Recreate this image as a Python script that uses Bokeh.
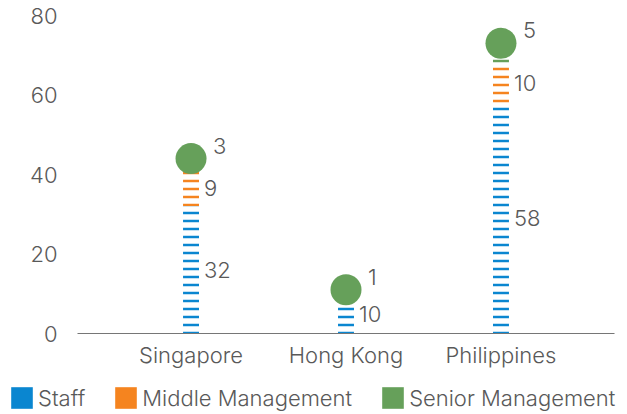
from bokeh.plotting import figure
from bokeh.layouts import column
from bokeh.models import (ColumnDataSource, FactorRange, Range1d, FixedTicker,
                          Legend, LegendItem)
from bokeh.core.properties import value
from bokeh.embed import file_html
from bokeh.resources import INLINE

# Headcount by level and office
countries = ["Singapore", "Hong Kong", "Philippines"]
staff = [32, 10, 58]
middle = [9, 0, 10]
senior = [3, 1, 5]
series_names = ["Staff", "Middle Management", "Senior Management"]
y_ticks = [0, 20, 40, 60, 80]

BLUE = "#0a86d0"
ORANGE = "#f5841f"
GREEN = "#66a05a"
TEXT = "#595959"
FONT = "'Inter Light', 'Roboto Light', Inter"
FONT_SIZE = "22px"

totals = [a + b + c for a, b, c in zip(staff, middle, senior)]

src = ColumnDataSource(dict(country=countries, staff=staff, middle=middle,
                            senior=senior, total=totals))

p = figure(
    x_range=FactorRange(*countries, range_padding=0.155),
    y_range=Range1d(0, 80),
    width=627, height=375,
    output_backend="svg", toolbar_location=None,
    min_border_left=77, min_border_right=13,
    min_border_top=15, min_border_bottom=42,
)
p.outline_line_color = None
p.xgrid.visible = False
p.ygrid.visible = False
p.background_fill_color = "white"
p.border_fill_color = "white"

# striped stacked columns
p.vbar_stack(
    ["staff", "middle", "senior"], x="country", width=0.103, source=src,
    fill_alpha=0, line_alpha=0,
    hatch_pattern="horizontal_line",
    hatch_color=[BLUE, ORANGE, GREEN],
    hatch_scale=8, hatch_weight=2.5,
)

# total marker on top of each column
p.scatter(x="country", y="total", source=src, size=31, marker="circle",
          fill_color=GREEN, line_color=None)

# segment value labels
lab_x, lab_y, lab_t, lab_dx, lab_dy = [], [], [], [], []
for c, s, m, g in zip(countries, staff, middle, senior):
    if s:
        lab_x.append(c); lab_y.append(s / 2); lab_t.append(str(s))
        lab_dx.append(13); lab_dy.append(0)
    if m:
        lab_x.append(c); lab_y.append(s + m / 2); lab_t.append(str(m))
        lab_dx.append(13); lab_dy.append(0)
    if g:
        lab_x.append(c); lab_y.append(s + m + g); lab_t.append(str(g))
        lab_dx.append(22); lab_dy.append(-13)
lab_src = ColumnDataSource(dict(x=lab_x, y=lab_y, text=lab_t, dx=lab_dx, dy=lab_dy))
p.text(x="x", y="y", text="text", x_offset="dx", y_offset="dy", source=lab_src,
       text_align="left", text_baseline="middle",
       text_font=value(FONT), text_font_size=FONT_SIZE, text_color=TEXT)

# axes
p.yaxis.ticker = FixedTicker(ticks=y_ticks)
p.yaxis.axis_line_color = None
p.yaxis.major_tick_line_color = None
p.yaxis.minor_tick_line_color = None
p.yaxis.major_tick_out = 0
p.yaxis.minor_tick_out = 0
p.yaxis.major_label_standoff = 20
p.yaxis.major_label_text_font = FONT
p.yaxis.major_label_text_font_size = FONT_SIZE
p.yaxis.major_label_text_color = TEXT

p.xaxis.axis_line_color = "#767676"
p.xaxis.axis_line_width = 1.2
p.xaxis.major_tick_line_color = None
p.xaxis.minor_tick_line_color = None
p.xaxis.major_tick_out = 0
p.xaxis.minor_tick_out = 0
p.xaxis.major_label_standoff = 8
p.xaxis.major_label_text_font = FONT
p.xaxis.major_label_text_font_size = FONT_SIZE
p.xaxis.major_label_text_color = TEXT

# legend strip with solid swatches
lg = figure(
    width=627, height=39, x_range=Range1d(0, 1), y_range=Range1d(0, 1),
    output_backend="svg", toolbar_location=None,
    x_axis_type=None, y_axis_type=None,
    min_border=0, min_border_left=0, min_border_right=0,
    min_border_top=0, min_border_bottom=0,
)
lg.outline_line_color = None
lg.xgrid.visible = False
lg.ygrid.visible = False
# the strip keeps its own full-width frame
for fig in (p, lg):
    if "frame_align" in fig.properties():
        fig.frame_align = False

swatch_src = ColumnDataSource(dict(x=[0], top=[0]))
swatches = [lg.vbar(x="x", top="top", width=0, source=swatch_src,
                    fill_color=c, line_color=None, visible=False)
            for c in (BLUE, ORANGE, GREEN)]
legend = Legend(
    items=[LegendItem(label=n, renderers=[r]) for n, r in zip(series_names, swatches)],
    orientation="horizontal", location=(8, 3),
    glyph_width=27, glyph_height=27, label_standoff=3, spacing=27,
    padding=0, margin=0, border_line_color=None, background_fill_alpha=0,
    label_text_font=FONT, label_text_font_size=FONT_SIZE, label_text_color=TEXT,
)
lg.add_layout(legend, "center")

open("out.html", "w").write(file_html(column(p, lg, spacing=0), INLINE))
